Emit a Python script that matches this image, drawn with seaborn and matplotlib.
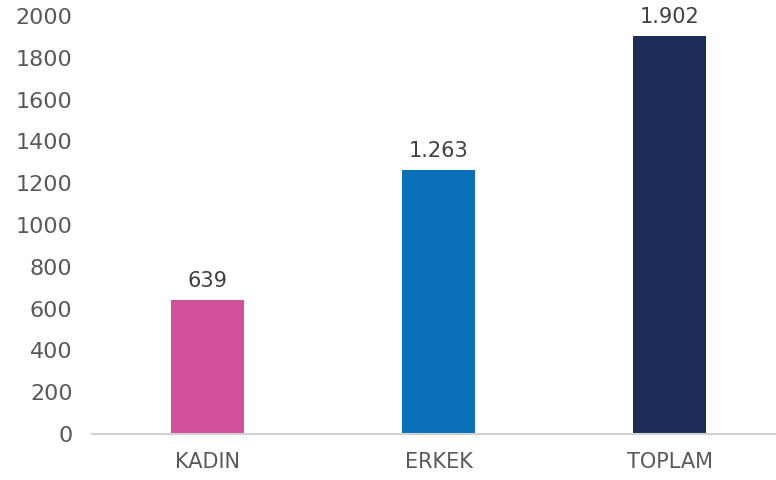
import matplotlib
matplotlib.use("Agg")
import matplotlib.pyplot as plt
import pandas as pd
import seaborn as sns

categories = ["KADIN", "ERKEK", "TOPLAM"]
values = [639, 1263, 1902]
bar_colors = ["#d24f9c", "#0a70b8", "#1e2d58"]
y_ticks = [0, 200, 400, 600, 800, 1000, 1200, 1400, 1600, 1800, 2000]


def _fmt_tr(v: int) -> str:
    return f"{v:,}".replace(",", ".")


sns.set_theme(style="white")
plt.rcParams["font.family"] = ["DejaVu Sans"]

df = pd.DataFrame({"category": categories, "value": values})

fig = plt.figure(figsize=(7.76, 4.8), dpi=100)
ax = fig.add_axes([92 / 776, 1 - 434 / 480, 1 - 92 / 776, (434 - 16) / 480])

sns.barplot(
    data=df, x="category", y="value", hue="category",
    palette=bar_colors, width=0.316, legend=False, ax=ax, saturation=1,
    linewidth=0,
)

for i, v in enumerate(values):
    ax.text(i, v + 45, _fmt_tr(v), ha="center", va="bottom", fontsize=15, color="#404040")

ax.set_xlim(-0.5, 2.46)
ax.set_ylim(0, 2000)
ax.set_yticks(y_ticks)
ax.set_yticklabels([str(t) for t in y_ticks])
ax.set_xlabel("")
ax.set_ylabel("")
ax.tick_params(axis="y", length=0, pad=14, labelsize=16, labelcolor="#595959")
ax.tick_params(axis="x", length=0, pad=13, labelsize=15, labelcolor="#595959")

for side in ("top", "right", "left"):
    ax.spines[side].set_visible(False)
ax.spines["bottom"].set_color("#d0d0d0")
ax.spines["bottom"].set_linewidth(1.5)

fig.savefig("out.png", dpi=100)
plt.close(fig)
